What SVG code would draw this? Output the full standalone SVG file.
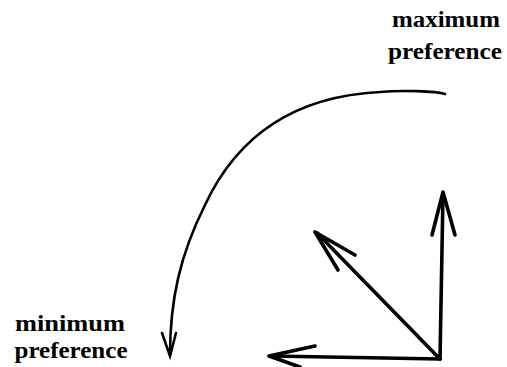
<svg xmlns="http://www.w3.org/2000/svg" width="507" height="367" viewBox="0 0 507 367">
<style>
.lbl{font-family:"Liberation Serif","Times New Roman",serif;font-size:24px;font-weight:bold;fill:#000;text-anchor:middle}
.arc{fill:none;stroke:#000;stroke-width:2.6;stroke-linecap:round}
.vec{fill:none;stroke:#000;stroke-width:3.6;stroke-linecap:round;stroke-linejoin:round}
</style>
<rect width="507" height="367" fill="#fff"/>
<g id="label-max">
<text class="lbl" x="446" y="27" textLength="108" lengthAdjust="spacingAndGlyphs">maximum</text>
<text class="lbl" x="445" y="59" textLength="114" lengthAdjust="spacingAndGlyphs">preference</text>
</g>
<g id="label-min">
<text class="lbl" x="70" y="331" textLength="110" lengthAdjust="spacingAndGlyphs">minimum</text>
<text class="lbl" x="71" y="358" textLength="113" lengthAdjust="spacingAndGlyphs">preference</text>
</g>
<g id="connectors">
<path id="sweep" class="arc" d="M445,94 C436,91 400,90 380,92 C300,96 240,130 205,205 C180,255 170,300 170,355"/>
<path class="arc" d="M162,333 L170,356 L176,333"/>
<g id="vec-up">
<path class="vec" d="M440,359 L443,194"/>
<path class="vec" d="M432,235 L443,192 L455,235"/>
</g>
<g id="vec-diag">
<path class="vec" d="M440,359 L317,233"/>
<path class="vec" d="M355,255 L315,232 L338,270"/>
</g>
<g id="vec-left">
<path class="vec" d="M440,359 L271,356"/>
<path class="vec" d="M315,346 L269,356 L300,367"/>
</g>
</g>
</svg>
